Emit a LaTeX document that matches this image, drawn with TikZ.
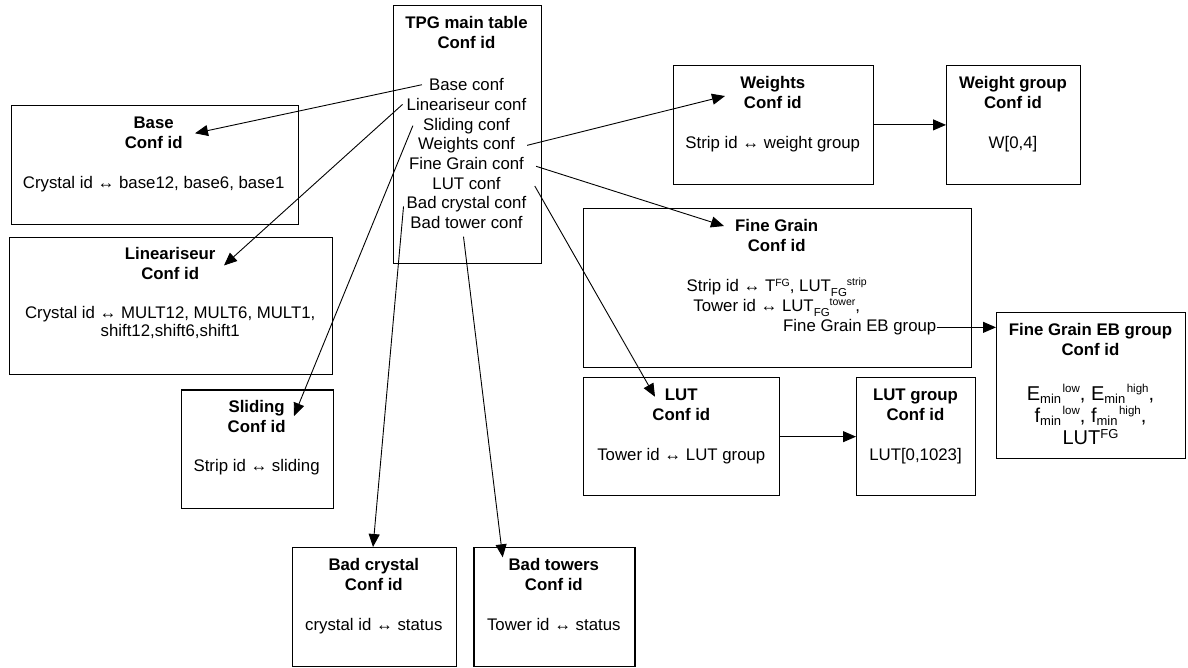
\documentclass[tikz,border=0pt]{standalone}
\usepackage{fontspec}
\setmainfont{Liberation Sans}
\usetikzlibrary{arrows.meta}
% lowered / raised small text: #1 shift, #2 size, #3 text
\newcommand\subtx[3]{\raisebox{-#1}{\fontsize{#2}{#2}\selectfont #3}}
\newcommand\suptx[3]{\raisebox{#1}{\fontsize{#2}{#2}\selectfont #3}}
\begin{document}
\begin{tikzpicture}[x=1pt,y=-1pt,
  box/.style={draw, line width=1.3pt, anchor=north west, inner sep=0pt},
  txt/.style={anchor=base, inner sep=0pt, font=\fontsize{16.8}{20}\selectfont},
  hd/.style={anchor=base, inner sep=0pt, font=\fontsize{16.8}{20}\selectfont\bfseries},
  big/.style={anchor=base, inner sep=0pt, font=\fontsize{20}{22}\selectfont},
  link/.style={line width=0.9pt, -{Triangle[length=13pt,width=11pt]}}]
\useasboundingbox (0,0) rectangle (1188,667);

% ---- frames ----
\node[box, minimum width=148.3pt, minimum height=258pt]   (main)    at (392.7,5) {};
\node[box, minimum width=287pt,   minimum height=118.5pt] (base)    at (10.5,105) {};
\node[box, minimum width=322.5pt, minimum height=137pt]   (lin)     at (9,236.5) {};
\node[box, minimum width=152.2pt, minimum height=118.4pt] (slide)   at (180.5,389.3) {};
\node[box, minimum width=200.3pt, minimum height=118.5pt] (weights) at (672.7,65) {};
\node[box, minimum width=134pt,   minimum height=118.5pt] (wgroup)  at (946,65) {};
\node[box, minimum width=387.5pt, minimum height=159pt]   (fg)      at (583,208) {};
\node[box, minimum width=189pt,   minimum height=146pt]   (fgeb)    at (996,312) {};
\node[box, minimum width=196pt,   minimum height=118pt]   (lut)     at (583,377) {};
\node[box, minimum width=119pt,   minimum height=118pt]   (lutg)    at (856,377) {};
\node[box, minimum width=163.7pt, minimum height=119pt]   (badc)    at (292,547) {};
\node[box, minimum width=161pt,   minimum height=119pt]   (badt)    at (473.3,547) {};

% ---- main table ----
\node[hd]  (mH1)      at (466.5,28.3) {TPG main table};
\node[hd]  (mH2)      at (466.5,48.3) {Conf id};
\node[txt] (mBase)    at (466.5,90.7)  {Base conf};
\node[txt] (mLin)     at (466.5,110.4) {Lineariseur conf};
\node[txt] (mSlide)   at (466.5,130.0) {Sliding conf};
\node[txt] (mWeights) at (466.5,149.7) {Weights conf};
\node[txt] (mFG)      at (466.5,169.3) {Fine Grain conf};
\node[txt] (mLUT)     at (466.5,189.0) {LUT conf};
\node[txt] (mBC)      at (466.5,208.7) {Bad crystal conf};
\node[txt] (mBT)      at (466.5,228.3) {Bad tower conf};

% ---- Base ----
\node[hd]  (baseH1) at (153.7,128.3) {Base};
\node[hd]  (baseH2) at (153.7,148.3) {Conf id};
\node[txt] (baseB1) at (153.7,188)   {Crystal id ↔ base12, base6, base1};

% ---- Lineariseur ----
\node[hd]  (linH1) at (170.2,259.5) {Lineariseur};
\node[hd]  (linH2) at (170.2,279.3) {Conf id};
\node[txt] (linB1) at (170.2,318.5) {Crystal id ↔ MULT12, MULT6, MULT1,};
\node[txt] (linB2) at (170.2,336)   {shift12,shift6,shift1};

% ---- Sliding ----
\node[hd]  (slideH1) at (256.6,412.6) {Sliding};
\node[hd]  (slideH2) at (256.6,432.3) {Conf id};
\node[txt] (slideB1) at (256.6,471.5) {Strip id ↔ sliding};

% ---- Weights ----
\node[hd]  (wH1) at (772.8,88.3)  {Weights};
\node[hd]  (wH2) at (772.8,108.3) {Conf id};
\node[txt] (wB1) at (772.8,148.3) {Strip id ↔ weight group};

% ---- Weight group ----
\node[hd]  (wgH1) at (1013,88.3)  {Weight group};
\node[hd]  (wgH2) at (1013,108.3) {Conf id};
\node[txt] (wgB1) at (1013,148.3) {W[0,4]};

% ---- Fine Grain ----
\node[hd]  (fgH1) at (776.7,231.7) {Fine Grain};
\node[hd]  (fgH2) at (776.7,251)   {Conf id};
\node[txt] (fgB1) at (776.7,291.7) {Strip id ↔ T\suptx{5pt}{10.5}{FG}, LUT\subtx{4.5pt}{11.5}{FG}\suptx{6.5pt}{10.5}{strip}};
\node[txt] (fgB2) at (776.7,311.7) {Tower id ↔ LUT\subtx{4.5pt}{11.5}{FG}\suptx{6.5pt}{10.5}{tower},};
\node[txt, anchor=base west] (fgEB) at (783,331.7) {Fine Grain EB group};

% ---- Fine Grain EB group ----
\node[hd]  (ebH1) at (1090.5,335.3) {Fine Grain EB group};
\node[hd]  (ebH2) at (1090.5,355)   {Conf id};
\node[big] (ebB1) at (1090.5,400)   {E\subtx{3.5pt}{13}{min}\kern1.5pt\suptx{8pt}{11.5}{low}, E\subtx{3.5pt}{13}{min}\kern1.5pt\suptx{8pt}{11.5}{high},};
\node[big] (ebB2) at (1090.5,422)   {f\subtx{3.5pt}{13}{min}\kern1.5pt\suptx{8pt}{11.5}{low}, f\subtx{3.5pt}{13}{min}\kern1.5pt\suptx{8pt}{11.5}{high},};
\node[big] (ebB3) at (1090.5,444)   {LUT\suptx{6pt}{13}{FG}};

% ---- LUT ----
\node[hd]  (lutH1) at (681.3,400.5) {LUT};
\node[hd]  (lutH2) at (681.3,420.3) {Conf id};
\node[txt] (lutB1) at (681.3,460.7) {Tower id ↔ LUT group};

% ---- LUT group ----
\node[hd]  (lutgH1) at (915.5,400.5) {LUT group};
\node[hd]  (lutgH2) at (915.5,420.3) {Conf id};
\node[txt] (lutgB1) at (915.5,460.7) {LUT[0,1023]};

% ---- Bad crystal ----
\node[hd]  (bcH1) at (373.8,570.5) {Bad crystal};
\node[hd]  (bcH2) at (373.8,590.3) {Conf id};
\node[txt] (bcB1) at (373.8,630.7) {crystal id ↔ status};

% ---- Bad towers ----
\node[hd]  (btH1) at (553.8,570.5) {Bad towers};
\node[hd]  (btH2) at (553.8,590.3) {Conf id};
\node[txt] (btB1) at (553.8,630.7) {Tower id ↔ status};

% ---- arrow targets inside the frames ----
\coordinate (tBase)    at (195,133.3);
\coordinate (tLin)     at (224,265.5);
\coordinate (tSlide)   at (294,416);
\coordinate (tWeights) at (725,96);
\coordinate (tFG)      at (724,226);
\coordinate (tLUT)     at (655,396.7);
\coordinate (tBC)      at (373,547);
\coordinate (tBT)      at (502.7,557.3);

% ---- connectors ----
\draw[link] ([xshift=-7pt]mBase.west) -- (tBase);
\draw[link] ([xshift=-4pt]mLin.west) -- (tLin);
\draw[link] ([xshift=-10pt]mSlide.west) -- (tSlide);
\draw[link] ([xshift=12pt]mWeights.east) -- (tWeights);
\draw[link] ([xshift=12pt,yshift=-3pt]mFG.east) -- (tFG);
\draw[link] ([xshift=34pt,yshift=-3pt]mLUT.east) -- (tLUT);
\draw[link] ([xshift=-3pt,yshift=-2pt]mBC.west) -- (tBC);
\draw[link] ([xshift=-3pt,yshift=-8pt]mBT.south) -- (tBT);
\draw[link] (weights) -- (wgroup);
\draw[link] (lut) -- (lutg);
\draw[link] (fgEB.east) -- (fgEB.east -| fgeb.west);
\end{tikzpicture}
\end{document}
